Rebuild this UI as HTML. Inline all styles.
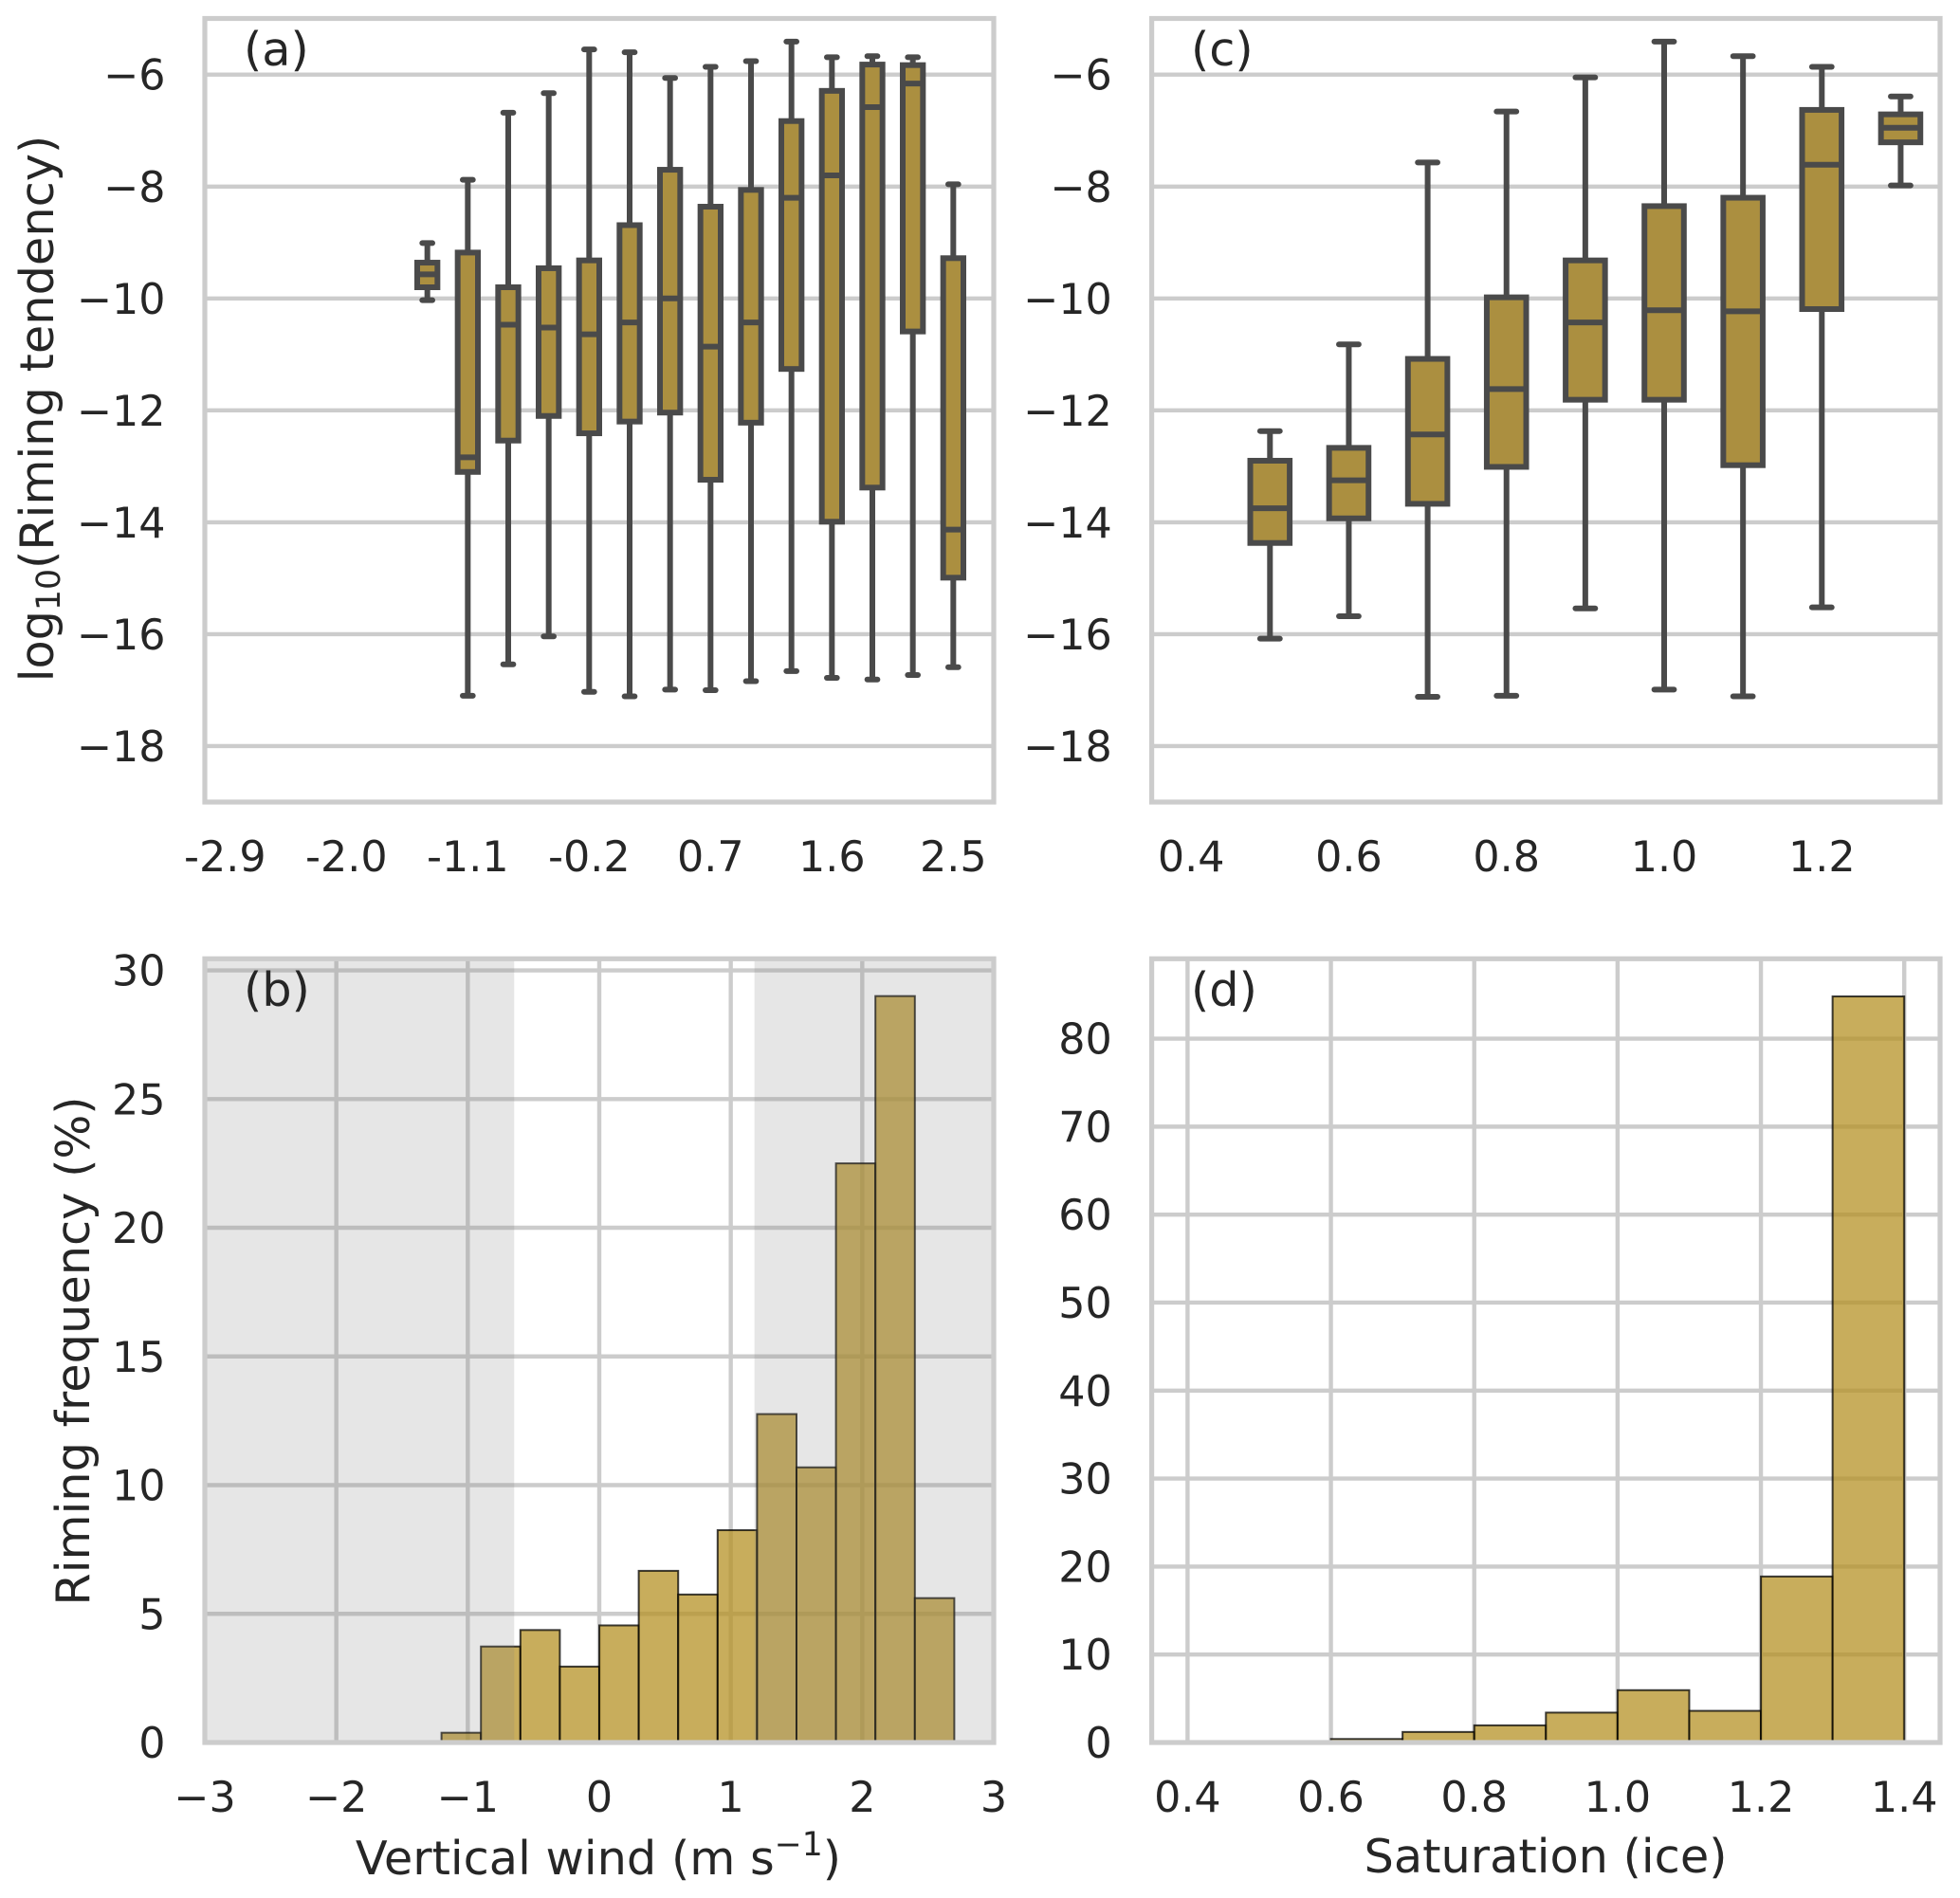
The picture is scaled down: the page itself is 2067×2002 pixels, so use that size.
<!DOCTYPE html>
<html lang="en">
<head>
<meta charset="utf-8">
<title>Riming tendency and frequency</title>
<style>
html,body{margin:0;padding:0;background:#fff;}
svg{display:block;}
text{font-family:"DejaVu Sans","Liberation Sans",sans-serif;fill:#262626;}
.tick{font-size:44.4px;}
.title{font-size:49.4px;}
</style>
</head>
<body>
<svg id="figure" xmlns="http://www.w3.org/2000/svg" width="2067" height="2002" viewBox="0 0 2067 2002">
  <rect x="0" y="0" width="2067" height="2002" fill="#ffffff"/>
  <g id="marks"></g>
  <text class="title" x="56" y="431" text-anchor="middle" transform="rotate(-90 56 431)">log<tspan font-size="34.6" dy="7">10</tspan><tspan dy="-7">(Riming tendency)</tspan></text>
  <text class="title" x="94" y="1425" text-anchor="middle" transform="rotate(-90 94 1425)">Riming frequency (%)</text>
  <text class="title" x="631" y="1977" text-anchor="middle">Vertical wind (m s<tspan font-size="34.6" dy="-20">−1</tspan><tspan dy="20">)</tspan></text>
  <text class="title" x="1630" y="1975" text-anchor="middle">Saturation (ice)</text>
  <text class="title" x="257" y="69">(a)</text>
  <text class="title" x="257" y="1061">(b)</text>
  <text class="title" x="1256" y="69">(c)</text>
  <text class="title" x="1256" y="1061">(d)</text>
</svg>
<script>
// Panel (a): riming tendency by vertical-wind bin
const windBins = [-1.4,-1.1,-0.8,-0.5,-0.2,0.1,0.4,0.7,1.0,1.3,1.6,1.9,2.2,2.5];
const windWhiskerHigh = [-9.01,-7.88,-6.68,-6.33,-5.55,-5.60,-6.06,-5.86,-5.76,-5.41,-5.69,-5.67,-5.69,-7.96];
const windQ3 = [-9.36,-9.18,-9.80,-9.46,-9.32,-8.69,-7.70,-8.36,-8.06,-6.83,-6.29,-5.82,-5.83,-9.28];
const windMedian = [-9.57,-12.84,-10.47,-10.52,-10.64,-10.43,-10.00,-10.86,-10.43,-8.20,-7.80,-6.58,-6.16,-14.13];
const windQ1 = [-9.80,-13.10,-12.54,-12.10,-12.41,-12.20,-12.04,-13.24,-12.22,-11.26,-13.99,-13.38,-10.59,-14.99];
const windWhiskerLow = [-10.03,-17.10,-16.54,-16.04,-17.03,-17.11,-16.99,-17.00,-16.84,-16.66,-16.78,-16.81,-16.73,-16.59];
const windTickValues = [-2.9,-2.0,-1.1,-0.2,0.7,1.6,2.5];
const windTickLabels = ["-2.9","-2.0","-1.1","-0.2","0.7","1.6","2.5"];

// Panel (c): riming tendency by ice-saturation bin
const satBins = [0.5,0.6,0.7,0.8,0.9,1.0,1.1,1.2,1.3];
const satWhiskerHigh = [-12.37,-10.82,-7.57,-6.66,-6.05,-5.41,-5.67,-5.86,-6.39];
const satQ3 = [-12.90,-12.67,-11.08,-9.98,-9.32,-8.35,-8.20,-6.63,-6.71];
const satMedian = [-13.75,-13.25,-12.43,-11.62,-10.43,-10.21,-10.23,-7.61,-6.95];
const satQ1 = [-14.37,-13.93,-13.67,-13.01,-11.81,-11.81,-12.98,-10.19,-7.21];
const satWhiskerLow = [-16.08,-15.68,-17.12,-17.10,-15.54,-16.99,-17.11,-15.52,-7.98];
const satTickValues = [0.4,0.6,0.8,1.0,1.2];
const satTickLabels = ["0.4","0.6","0.8","1.0","1.2"];

const tendencyTicks = [-6,-8,-10,-12,-14,-16,-18];
const tendencyTickLabels = ["−6","−8","−10","−12","−14","−16","−18"];

// Panel (b): riming frequency histogram over vertical wind
const windHistEdges = [-1.2,-0.9,-0.6,-0.3,0,0.3,0.6,0.9,1.2,1.5,1.8,2.1,2.4,2.7];
const windHistValues = [0.38,3.73,4.37,2.95,4.55,6.67,5.75,8.25,12.76,10.69,22.5,29.0,5.61];
const windShadeBands = [[-3,-0.647],[1.18,3]];
const windHistYTicks = [0,5,10,15,20,25,30];
const windHistYLabels = ["0","5","10","15","20","25","30"];
const windHistXTicks = [-3,-2,-1,0,1,2,3];
const windHistXLabels = ["−3","−2","−1","0","1","2","3"];

// Panel (d): riming frequency histogram over ice saturation
const satHistEdges = [0.6,0.7,0.8,0.9,1.0,1.1,1.2,1.3,1.4];
const satHistValues = [0.4,1.2,1.95,3.4,5.95,3.6,18.87,84.8];
const satHistYTicks = [0,10,20,30,40,50,60,70,80];
const satHistYLabels = ["0","10","20","30","40","50","60","70","80"];
const satHistXTicks = [0.4,0.6,0.8,1.0,1.2,1.4];
const satHistXLabels = ["0.4","0.6","0.8","1.0","1.2","1.4"];

const NS = "http://www.w3.org/2000/svg";
const root = document.getElementById("marks");

function linear(domain, range) {
  return function (v) {
    return range[0] + (v - domain[0]) / (domain[1] - domain[0]) * (range[1] - range[0]);
  };
}
function mk(tag, parent, props) {
  const el = document.createElementNS(NS, tag);
  for (const k in props) { el.setAttribute(k, props[k]); }
  parent.appendChild(el);
  return el;
}

const GRID = "#cccccc";
const BOXLINE = "#4a4a4a";
const BOXSTROKE = 6;

function drawHGrid(group, ticks, y, frame) {
  ticks.forEach(function (t) {
    const el = mk("line", group, {x1: frame.l, x2: frame.r, y1: y(t), y2: y(t), stroke: GRID, "stroke-width": 4.4});
    
    
  });
}
function drawVGrid(group, ticks, x, frame) {
  ticks.forEach(function (t) {
    const el = mk("line", group, {x1: x(t), x2: x(t), y1: frame.t, y2: frame.b, stroke: GRID, "stroke-width": 4.4});
    
    
  });
}
function drawFrame(group, frame) {
  const el = mk("rect", group, {x: frame.l, y: frame.t, width: frame.r - frame.l, height: frame.b - frame.t, fill: "none", stroke: GRID, "stroke-width": 5.2});
  
  
}
function drawYLabels(group, ticks, labels, y, xRight) {
  ticks.forEach(function (t, i) {
    const el = mk("text", group, {x: xRight, y: y(t) + 16, "text-anchor": "end", "class": "tick"});
    el.textContent = labels[i];
    
    
  });
}
function drawXLabels(group, ticks, labels, x, baseline) {
  ticks.forEach(function (t, i) {
    const el = mk("text", group, {x: x(t), y: baseline, "text-anchor": "middle", "class": "tick"});
    el.textContent = labels[i];
    
    
  });
}

function drawBoxes(group, cats, high, q3, med, q1, low, x, y, boxW) {
  cats.forEach(function (c, i) {
    const cx = x(c);
    const g = mk("g", group, {});
    
    
    const upper = mk("line", g, {x1: cx, x2: cx, y1: y(high[i]), y2: y(q3[i]), stroke: BOXLINE, "stroke-width": BOXSTROKE});
    
    
    const lower = mk("line", g, {x1: cx, x2: cx, y1: y(q1[i]), y2: y(low[i]), stroke: BOXLINE, "stroke-width": BOXSTROKE});
    
    
    const capHigh = mk("line", g, {x1: cx - boxW / 4, x2: cx + boxW / 4, y1: y(high[i]), y2: y(high[i]), stroke: BOXLINE, "stroke-width": BOXSTROKE, "stroke-linecap": "round"});
    
    
    const capLow = mk("line", g, {x1: cx - boxW / 4, x2: cx + boxW / 4, y1: y(low[i]), y2: y(low[i]), stroke: BOXLINE, "stroke-width": BOXSTROKE, "stroke-linecap": "round"});
    
    
    const body = mk("rect", g, {x: cx - boxW / 2, y: y(q3[i]), width: boxW, height: y(q1[i]) - y(q3[i]), fill: "#ab8f40", stroke: BOXLINE, "stroke-width": BOXSTROKE});
    
    
    const m = mk("line", g, {x1: cx - boxW / 2, x2: cx + boxW / 2, y1: y(med[i]), y2: y(med[i]), stroke: BOXLINE, "stroke-width": BOXSTROKE});
    
    
  });
}

function drawBars(group, edges, values, x, y) {
  values.forEach(function (v, i) {
    const el = mk("rect", group, {x: x(edges[i]), y: y(v), width: x(edges[i + 1]) - x(edges[i]), height: y(0) - y(v), fill: "#b69226", "fill-opacity": 0.75, stroke: "#000000", "stroke-opacity": 0.75, "stroke-width": 2});
    
    
  });
}

// ---- Panel (a)
const frameA = {l: 216, r: 1048, t: 19.5, b: 846};
const xA = linear([-3.05, 2.8], [frameA.l, frameA.r]);
const yBox = linear([-19, -5], [846, 19.7]);
const panelA = mk("g", root, {});


drawHGrid(panelA, tendencyTicks, yBox, frameA);
drawBoxes(panelA, windBins, windWhiskerHigh, windQ3, windMedian, windQ1, windWhiskerLow, xA, yBox, xA(0.3) - xA(0.15));
drawFrame(panelA, frameA);
drawYLabels(panelA, tendencyTicks, tendencyTickLabels, yBox, 174.5);
drawXLabels(panelA, windTickValues, windTickLabels, xA, 919);

// ---- Panel (c)
const frameC = {l: 1214.6, r: 2046, t: 19.5, b: 846};
const xC = linear([0.35, 1.35], [frameC.l, frameC.r]);
const panelC = mk("g", root, {});


drawHGrid(panelC, tendencyTicks, yBox, frameC);
drawBoxes(panelC, satBins, satWhiskerHigh, satQ3, satMedian, satQ1, satWhiskerLow, xC, yBox, xC(0.4) - xC(0.35));
drawFrame(panelC, frameC);
drawYLabels(panelC, tendencyTicks, tendencyTickLabels, yBox, 1172.8);
drawXLabels(panelC, satTickValues, satTickLabels, xC, 919);

// ---- Panel (b)
const frameB = {l: 216, r: 1048, t: 1011.3, b: 1838};
const xB = linear([-3, 3], [frameB.l, frameB.r]);
const yB = linear([0, 30.45], [1838, 1011.3]);
const panelB = mk("g", root, {});


drawHGrid(panelB, windHistYTicks, yB, frameB);
drawVGrid(panelB, windHistXTicks, xB, frameB);
drawBars(panelB, windHistEdges, windHistValues, xB, yB);
windShadeBands.forEach(function (band) {
  const el = mk("rect", panelB, {x: xB(band[0]), y: frameB.t, width: xB(band[1]) - xB(band[0]), height: frameB.b - frameB.t, fill: "#808080", "fill-opacity": 0.2});
  
  
});
drawFrame(panelB, frameB);
drawYLabels(panelB, windHistYTicks, windHistYLabels, yB, 174.5);
drawXLabels(panelB, windHistXTicks, windHistXLabels, xB, 1911);

// ---- Panel (d)
const frameD = {l: 1214.6, r: 2046, t: 1011.3, b: 1838};
const xD = linear([0.35, 1.45], [frameD.l, frameD.r]);
const yD = linear([0, 89.08], [1838, 1011.3]);
const panelD = mk("g", root, {});


drawHGrid(panelD, satHistYTicks, yD, frameD);
drawVGrid(panelD, satHistXTicks, xD, frameD);
drawBars(panelD, satHistEdges, satHistValues, xD, yD);
drawFrame(panelD, frameD);
drawYLabels(panelD, satHistYTicks, satHistYLabels, yD, 1172.8);
drawXLabels(panelD, satHistXTicks, satHistXLabels, xD, 1911);
</script>
</body>
</html>
